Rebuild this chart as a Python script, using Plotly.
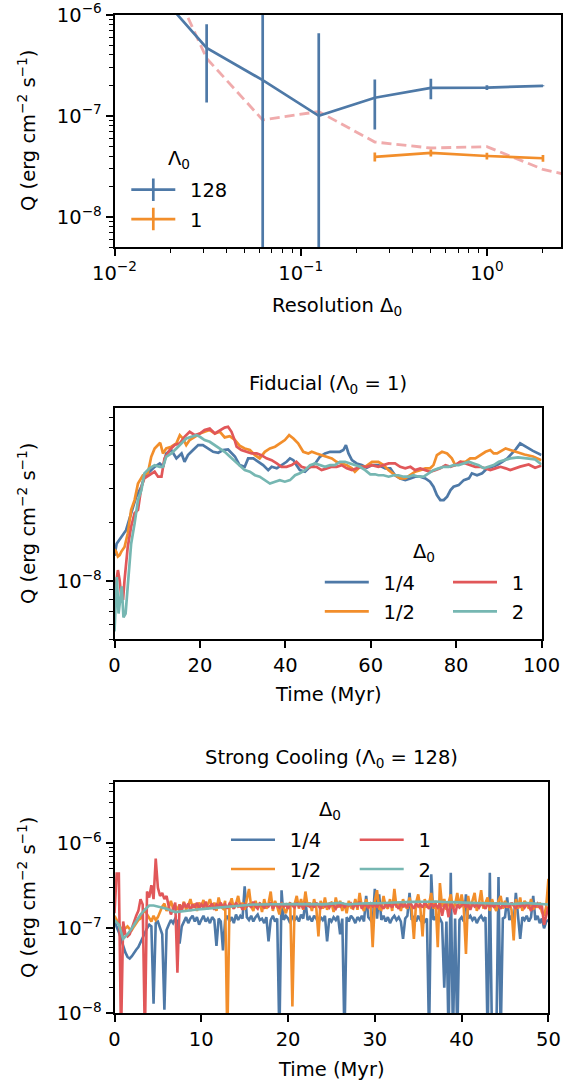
import numpy as np
import plotly.graph_objects as go

W, H = 564, 1082
FONT = "DejaVu Sans"
FS = 19.5


def px(x):
    return x / W


def py(y):
    return 1 - y / H


BLUE = "#4e79a7"
ORANGE = "#f28e2b"
RED = "#e15759"
TEAL = "#76b7b2"
PINK = "rgba(225,87,89,0.5)"

# ---------------- top panel data: Q vs resolution ----------------
res_delta_128 = [1 / 64, 1 / 32, 1 / 16, 1 / 8, 1 / 4, 1 / 2, 1, 2]
q_128 = [2.0e-6, 4.7e-7, 2.25e-7, 1.0e-7, 1.51e-7, 1.89e-7, 1.90e-7, 1.98e-7]
q_128_err = [5e-7, 3.35e-7, 8.0e-7, 5.55e-7, 7.8e-8, 4.3e-8, 1.0e-8, 2e-9]

res_delta_1 = [1 / 4, 1 / 2, 1, 2]
q_1 = [3.93e-8, 4.3e-8, 4.0e-8, 3.8e-8]
q_1_err = [4e-9, 3.5e-9, 3e-9, 3e-9]

res_delta_ref = [1 / 64, 1 / 32, 1 / 16, 1 / 8, 1 / 4, 1 / 2, 1, 2, 4]
q_ref = [6e-6, 3.7e-7, 9.1e-8, 1.1e-7, 5.5e-8, 4.8e-8, 4.95e-8, 2.95e-8, 2.2e-8]

# ---------------- middle panel: Fiducial (Lambda0 = 1), (time Myr, Q in 1e-8) ----------------
FID_UNIT = 1e-8
fid_quarter = [
    (0.0, 1.35), (0.5, 1.56), (1.6, 1.69), (2.7, 1.83), (3.9, 2.24), (5.1, 2.73), (6.3, 3.07),
    (7.0, 3.46), (8.2, 3.67), (9.4, 3.89), (10.6, 4.05), (11.4, 3.89), (12.1, 4.56), (13.3, 4.75),
    (14.5, 4.30), (15.7, 4.56), (16.4, 4.13), (17.2, 4.47), (18.4, 4.75), (19.6, 5.04), (20.7, 5.04),
    (21.9, 4.84), (23.1, 4.65), (24.3, 4.60), (25.4, 4.75), (26.6, 4.78), (27.4, 4.60), (28.2, 4.40),
    (29.3, 3.97), (30.5, 3.89), (31.3, 4.30), (32.5, 4.30), (33.7, 4.13), (34.8, 3.97), (36.0, 3.74),
    (36.8, 3.89), (38.0, 3.82), (39.1, 3.97), (40.3, 4.13), (41.1, 4.30), (41.9, 4.21), (42.6, 3.97),
    (43.4, 3.74), (44.6, 3.67), (45.8, 3.89), (47.0, 4.05), (48.1, 4.38), (49.3, 4.56), (50.5, 4.65),
    (51.6, 4.65), (52.8, 4.65), (53.6, 4.75), (54.2, 5.04), (54.8, 4.56), (55.6, 4.21), (56.7, 4.05),
    (57.9, 3.97), (59.1, 3.85), (60.3, 3.97), (61.8, 3.97), (63.4, 3.82), (64.6, 3.82), (65.7, 3.52),
    (66.9, 3.39), (68.1, 3.32), (69.3, 3.39), (70.4, 3.46), (71.6, 3.46), (72.8, 3.39), (73.9, 3.26),
    (74.7, 3.07), (75.5, 2.78), (76.3, 2.62), (77.1, 2.62), (77.9, 2.73), (78.7, 2.95), (79.4, 3.07),
    (80.6, 3.13), (81.8, 3.32), (83.0, 3.39), (83.7, 3.60), (84.9, 3.52), (86.1, 3.60), (87.3, 3.82),
    (88.4, 3.89), (89.6, 3.97), (90.8, 4.13), (92.0, 4.30), (92.7, 4.47), (94.0, 4.80), (95.0, 5.14),
    (96.5, 4.90), (98.0, 4.70), (100.0, 4.47),
]
fid_half = [
    (0.0, 1.46), (0.4, 1.42), (0.8, 1.34), (1.2, 1.36), (1.6, 1.42), (2.35, 1.50), (3.1, 1.76),
    (3.9, 2.33), (4.7, 2.62), (5.5, 3.19), (6.65, 3.52), (7.8, 3.60), (8.6, 4.38), (9.4, 4.84),
    (10.7, 5.18), (11.35, 4.56), (12.1, 4.84), (13.3, 4.94), (14.5, 5.14), (15.3, 5.67), (16.0, 5.45),
    (16.8, 5.04), (17.6, 5.35), (18.8, 5.56), (20.0, 5.78), (21.1, 5.90), (22.3, 6.02), (23.5, 5.78),
    (24.7, 5.90), (25.8, 5.52), (27.0, 5.60), (28.2, 5.35), (29.3, 5.00), (30.5, 4.84), (31.7, 4.75),
    (32.9, 4.47), (34.0, 4.30), (35.2, 4.65), (36.4, 4.84), (37.6, 4.94), (38.7, 5.14), (39.9, 5.35),
    (40.9, 5.67), (41.9, 5.45), (43.0, 5.14), (44.2, 4.65), (45.4, 4.56), (46.2, 4.65), (47.3, 4.56),
    (48.5, 4.47), (49.7, 4.38), (50.9, 4.30), (52.0, 4.13), (53.2, 4.05), (54.4, 3.97), (55.6, 3.82),
    (56.3, 3.67), (57.5, 3.89), (58.7, 3.89), (60.3, 4.13), (61.8, 4.13), (63.0, 3.97), (64.2, 3.74),
    (65.7, 3.52), (66.9, 3.39), (68.1, 3.39), (69.3, 3.52), (70.4, 3.67), (71.6, 3.74), (72.8, 3.82),
    (73.9, 3.82), (74.7, 3.97), (75.5, 4.47), (76.7, 4.65), (77.9, 4.56), (79.0, 4.30), (79.8, 3.97),
    (81.0, 4.13), (82.2, 4.13), (83.3, 4.30), (84.5, 4.30), (85.7, 4.47), (86.9, 4.65), (88.0, 4.75),
    (88.8, 4.56), (89.6, 4.56), (90.8, 4.75), (91.6, 4.84), (92.7, 4.75), (94.5, 4.60), (96.0, 4.50),
    (98.0, 4.40), (100.0, 4.21),
]
fid_one = [
    (0.0, 0.90), (0.25, 0.94), (0.8, 1.14), (1.2, 1.01), (1.6, 0.83), (2.0, 0.80), (2.35, 1.01),
    (3.1, 1.50), (3.9, 1.91), (4.7, 2.24), (5.5, 2.33), (6.3, 3.07), (7.0, 3.39), (8.2, 3.52),
    (9.4, 3.67), (10.2, 3.46), (11.0, 3.46), (11.7, 4.30), (12.9, 4.75), (14.1, 5.04), (15.3, 5.14),
    (16.4, 5.56), (17.6, 5.90), (18.8, 5.67), (20.0, 5.78), (21.1, 6.02), (22.3, 6.14), (23.5, 5.78),
    (24.7, 6.02), (25.8, 6.20), (26.6, 6.26), (27.4, 5.90), (28.2, 5.30), (28.6, 4.94), (29.7, 4.75),
    (30.9, 4.65), (32.1, 4.56), (33.3, 4.56), (34.4, 4.47), (35.6, 4.30), (36.8, 4.21), (38.0, 4.05),
    (39.1, 3.89), (40.3, 3.89), (41.5, 3.97), (42.6, 4.13), (43.8, 3.89), (45.0, 3.82), (46.2, 3.89),
    (47.3, 3.89), (48.5, 3.74), (49.7, 3.82), (50.9, 3.89), (52.0, 3.89), (53.2, 3.97), (54.4, 3.82),
    (55.6, 3.74), (56.7, 3.82), (57.9, 3.89), (59.1, 3.89), (60.3, 3.97), (61.8, 3.89), (63.0, 3.97),
    (64.2, 4.05), (65.7, 4.05), (66.9, 3.89), (68.1, 3.82), (69.3, 3.89), (70.4, 3.74), (71.6, 3.82),
    (72.8, 3.74), (73.9, 3.67), (75.1, 3.74), (76.3, 3.82), (77.5, 3.97), (78.7, 3.89), (79.8, 3.97),
    (81.0, 4.13), (82.2, 4.05), (83.3, 3.97), (84.5, 3.89), (85.7, 3.89), (86.9, 3.82), (88.0, 3.74),
    (89.2, 3.82), (90.4, 3.89), (91.6, 3.82), (92.7, 3.74), (95.0, 3.90), (97.0, 4.00), (98.5, 3.85),
    (100.0, 3.95),
]
fid_two = [
    (0.0, 0.55), (0.25, 0.74), (0.55, 1.05), (0.95, 0.68), (1.3, 0.80), (1.7, 0.94), (2.1, 0.65),
    (2.6, 0.68), (3.1, 0.94), (3.9, 1.56), (4.7, 1.98), (5.5, 2.62), (6.3, 2.95), (7.0, 3.60),
    (8.2, 3.82), (9.4, 3.97), (10.6, 3.89), (11.35, 3.89), (12.1, 4.38), (13.3, 4.56), (14.5, 4.84),
    (15.65, 5.14), (16.8, 5.45), (18.0, 5.56), (19.2, 5.67), (20.0, 5.56), (21.1, 5.35), (22.3, 5.24),
    (23.5, 5.04), (24.65, 4.84), (25.8, 4.65), (27.0, 4.40), (28.2, 4.17), (29.3, 3.93), (30.5, 3.74),
    (31.7, 3.67), (32.9, 3.52), (34.0, 3.46), (35.2, 3.32), (36.4, 3.19), (37.6, 3.26), (38.7, 3.32),
    (39.9, 3.26), (41.1, 3.32), (42.3, 3.52), (43.4, 3.60), (44.6, 3.74), (45.8, 3.97), (47.0, 4.05),
    (48.1, 3.97), (49.3, 3.89), (50.5, 3.97), (51.6, 3.97), (52.8, 4.13), (54.0, 4.13), (55.2, 4.05),
    (56.3, 3.97), (57.5, 3.89), (58.7, 3.74), (59.9, 3.56), (61.0, 3.56), (61.8, 3.52), (63.0, 3.52),
    (64.2, 3.46), (65.4, 3.52), (66.5, 3.52), (67.7, 3.46), (68.9, 3.46), (70.0, 3.52), (71.2, 3.46),
    (72.4, 3.46), (73.6, 3.60), (74.7, 3.74), (75.9, 3.82), (77.1, 3.89), (78.3, 3.89), (79.4, 3.97),
    (80.6, 3.97), (81.8, 4.05), (83.0, 4.13), (84.1, 4.05), (85.3, 3.97), (86.5, 3.82), (87.6, 3.89),
    (88.8, 3.97), (90.0, 4.13), (91.2, 4.21), (92.7, 4.30), (94.5, 4.35), (96.5, 4.30), (98.5, 4.25),
    (100.0, 4.00),
]

# ---------------- bottom panel: Strong cooling (Lambda0 = 128), Q in 1e-7 ----------------
# samples evenly spaced from 0 to 50 Myr (0.25 Myr for 1/4, 1/2, 1; 0.5 Myr for 2)
SC_UNIT = 1e-7
sc_quarter = [
    1.20, 1.05, 0.90, 0.75, 0.62, 0.52, 0.46, 0.44, 0.47, 0.52,
    0.56, 0.60, 0.68, 0.78, 0.90, 1.00, 1.10, 1.05, 0.13, 1.15,
    1.20, 1.00, 0.85, 0.11, 0.95, 1.10, 1.25, 1.15, 1.30, 1.20,
    0.66, 1.05, 1.20, 1.35, 1.15, 1.30, 1.40, 1.20, 1.35, 1.10,
    1.25, 1.40, 1.20, 1.30, 1.15, 1.35, 1.25, 0.62, 1.30, 1.20,
    0.55, 1.25, 1.40, 1.20, 1.35, 1.15, 1.45, 1.25, 1.40, 1.30,
    3.10, 1.35, 1.25, 1.40, 1.20, 1.35, 1.45, 1.25, 1.30, 1.15,
    1.35, 0.70, 1.25, 1.40, 1.20, 1.30, 0.05, 2.80, 1.25, 1.40,
    1.30, 1.15, 1.40, 1.25, 1.35, 1.20, 1.45, 1.30, 2.10, 1.25,
    1.35, 1.20, 1.40, 1.30, 1.15, 1.35, 1.25, 1.40, 0.70, 1.30,
    1.20, 1.35, 1.25, 1.40, 0.85, 1.30, 0.05, 1.35, 1.20, 1.40,
    1.30, 1.15, 1.35, 1.25, 1.40, 1.20, 2.40, 1.35, 1.25, 1.15,
    2.90, 1.30, 2.50, 1.25, 1.40, 1.20, 1.35, 1.15, 1.30, 1.40,
    1.25, 1.35, 1.20, 0.75, 1.30, 1.40, 2.60, 1.25, 1.35, 1.20,
    1.40, 1.25, 1.35, 1.20, 1.30, 0.05, 4.30, 1.25, 1.35, 1.20,
    1.30, 1.15, 0.20, 1.20, 0.05, 4.50, 0.05, 1.30, 0.05, 1.25,
    1.35, 1.20, 2.50, 1.30, 1.40, 1.25, 1.35, 1.15, 1.30, 1.40,
    1.25, 1.35, 0.05, 4.50, 0.05, 0.05, 0.05, 4.00, 0.05, 1.30,
    1.35, 2.30, 1.25, 1.40, 1.20, 2.60, 1.30, 0.75, 1.35, 1.25,
    1.40, 1.20, 1.35, 2.40, 1.25, 1.40, 1.15, 1.30, 1.00, 1.20,
    1.25,
]
sc_half = [
    1.40, 1.25, 1.10, 1.00, 0.95, 1.00, 1.05, 0.98, 0.95, 1.05,
    1.15, 1.25, 1.30, 1.50, 1.70, 1.45, 1.30, 1.20, 1.40, 1.25,
    1.35, 1.60, 1.80, 1.95, 1.60, 1.75, 2.10, 1.70, 1.85, 1.65,
    1.90, 1.70, 2.05, 1.65, 1.85, 2.20, 1.75, 1.95, 1.60, 2.00,
    1.80, 2.15, 1.70, 1.90, 2.20, 1.75, 2.00, 1.60, 2.30, 1.80,
    1.70, 2.10, 0.05, 1.85, 2.25, 1.70, 1.95, 2.40, 1.75, 2.00,
    1.65, 2.20, 2.90, 1.80, 1.60, 2.10, 1.75, 2.00, 1.55, 2.20,
    1.70, 1.95, 2.70, 1.60, 2.10, 1.80, 1.45, 2.00, 1.70, 1.50,
    1.85, 2.00, 0.12, 1.90, 2.40, 1.70, 2.20, 1.65, 2.70, 1.80,
    2.00, 1.60, 2.20, 1.75, 0.80, 2.10, 1.70, 2.30, 1.65, 1.95,
    2.00, 1.55, 2.30, 1.75, 2.10, 1.60, 1.95, 1.50, 2.10, 1.75,
    1.70, 2.20, 1.65, 2.60, 1.80, 1.60, 2.20, 1.75, 1.95, 0.60,
    2.10, 2.80, 1.70, 1.65, 2.40, 1.80, 1.70, 2.20, 1.60, 2.90,
    1.75, 2.00, 1.60, 2.20, 1.80, 1.70, 2.30, 1.65, 0.75, 2.00,
    2.50, 1.70, 0.80, 2.20, 1.75, 1.95, 2.60, 1.70, 2.10, 0.60,
    3.40, 1.80, 2.20, 1.65, 2.00, 2.50, 1.70, 1.90, 2.60, 1.75,
    2.50, 1.70, 0.50, 2.40, 1.70, 2.20, 2.60, 1.60, 1.95, 2.80,
    1.70, 2.00, 2.30, 1.60, 2.20, 1.80, 1.60, 2.10, 2.40, 1.70,
    2.10, 1.75, 1.95, 1.65, 0.72, 2.20, 1.70, 2.30, 1.60, 2.10,
    1.85, 1.70, 2.20, 1.65, 1.95, 1.75, 2.00, 1.55, 1.40, 1.80,
    3.80,
]
sc_one = [
    1.50, 4.40, 4.40, 0.05, 1.20, 0.85, 0.80, 0.85, 1.00, 1.20,
    1.40, 1.60, 2.20, 1.90, 0.05, 2.70, 2.30, 3.20, 2.20, 6.60,
    3.00, 2.40, 2.60, 2.20, 2.40, 1.80, 1.45, 1.70, 2.00, 0.30,
    1.90, 1.60, 2.00, 1.75, 1.95, 1.60, 1.90, 1.75, 2.00, 1.70,
    1.90, 1.75, 2.05, 1.70, 1.85, 1.95, 1.65, 1.90, 1.80, 2.00,
    1.75, 1.90, 1.70, 1.95, 1.85, 1.70, 2.00, 1.80, 1.90, 1.65,
    1.95, 1.80, 1.90, 1.75, 2.05, 1.80, 1.70, 1.95, 1.85, 1.75,
    1.90, 1.80, 2.00, 1.70, 1.90, 1.85, 1.75, 1.95, 1.80, 1.90,
    1.70, 1.95, 1.85, 1.75, 2.00, 1.80, 1.90, 1.70, 1.95, 1.85,
    1.80, 1.90, 1.75, 2.00, 1.85, 1.70, 1.95, 1.80, 1.90, 1.75,
    1.95, 1.85, 1.70, 1.90, 1.80, 2.00, 1.75, 1.90, 1.85, 1.95,
    1.75, 1.90, 1.80, 2.05, 1.70, 1.90, 1.85, 1.75, 1.95, 1.80,
    1.90, 1.75, 2.00, 1.85, 1.70, 1.95, 1.80, 1.90, 1.75, 2.00,
    1.85, 1.70, 1.95, 1.80, 1.90, 1.75, 2.05, 1.85, 1.70, 1.95,
    1.80, 1.90, 1.75, 2.00, 1.85, 1.70, 1.95, 1.80, 1.90, 1.75,
    1.95, 1.40, 1.85, 1.90, 1.35, 2.00, 1.80, 1.45, 1.90, 1.75,
    1.85, 2.00, 1.75, 1.90, 1.65, 1.95, 1.80, 1.90, 1.75, 1.95,
    1.85, 1.70, 1.95, 1.80, 1.90, 1.75, 2.00, 1.85, 1.70, 1.95,
    1.80, 1.90, 1.75, 2.00, 1.85, 1.70, 1.95, 1.80, 1.90, 1.75,
    1.95, 1.85, 1.60, 1.90, 1.80, 1.95, 1.75, 1.85, 1.10, 1.40,
    1.80,
]
sc_two = [
    1.25, 1.10, 0.75, 0.85, 1.00, 1.20, 1.45, 1.65, 1.85, 1.85,
    1.80, 1.75, 1.70, 1.62, 1.55, 1.57, 1.60, 1.63, 1.64, 1.66,
    1.68, 1.70, 1.72, 1.74, 1.76, 1.78, 1.80, 1.82, 1.84, 1.86,
    1.88, 1.89, 1.90, 1.90, 1.91, 1.91, 1.92, 1.92, 1.93, 1.92,
    1.93, 1.92, 1.94, 1.93, 1.92, 1.93, 1.94, 1.92, 1.91, 1.92,
    1.93, 1.97, 1.99, 1.94, 1.91, 1.93, 1.95, 1.96, 1.97, 1.96,
    1.95, 1.97, 1.98, 2.00, 2.01, 2.00, 2.02, 2.03, 2.02, 2.04,
    2.05, 2.04, 2.03, 2.05, 2.06, 2.04, 2.03, 2.02, 2.03, 2.01,
    2.00, 2.01, 1.99, 1.98, 1.97, 1.96, 1.95, 1.94, 1.93, 1.92,
    1.92, 1.91, 1.93, 1.95, 1.97, 1.98, 1.96, 1.94, 1.92, 1.91,
    1.90,
]
SC_T_END = 50.0

delta_labels = ["1/4", "1/2", "1", "2"]
colors4 = [BLUE, ORANGE, RED, TEAL]

fig = go.Figure()

# ---- top panel ----
fig.add_trace(go.Scatter(x=res_delta_ref, y=q_ref, mode="lines", showlegend=False,
                         line=dict(color=PINK, width=2.8, dash="10px,5px"), xaxis="x", yaxis="y"))
fig.add_trace(go.Scatter(x=res_delta_128, y=q_128, mode="lines", showlegend=False,
                         line=dict(color=BLUE, width=2.7),
                         error_y=dict(type="data", array=q_128_err, color=BLUE, thickness=2.7, width=0),
                         xaxis="x", yaxis="y"))
fig.add_trace(go.Scatter(x=res_delta_1, y=q_1, mode="lines", showlegend=False,
                         line=dict(color=ORANGE, width=2.7),
                         error_y=dict(type="data", array=q_1_err, color=ORANGE, thickness=2.7, width=0),
                         xaxis="x", yaxis="y"))
# legend entries (line with an error-bar tick), no data of their own
for name, col, grp in [("\u2002128", BLUE, "g128"), ("\u20021", ORANGE, "g1")]:
    fig.add_trace(go.Scatter(x=[None], y=[None], mode="lines+markers", name=name,
                             line=dict(color=col, width=2.7),
                             marker=dict(symbol="line-ns", size=16, color=col, line=dict(color=col, width=2.7)),
                             legend="legend", legendgroup=grp, xaxis="x", yaxis="y"))

# ---- middle panel ----
fid_series = [fid_quarter, fid_half, fid_one, fid_two]
fid_legends = ["legend2", "legend2", "legend3", "legend3"]
for lab, col, ser, lg in zip(delta_labels, colors4, fid_series, fid_legends):
    t = [p[0] for p in ser]
    q = [p[1] * FID_UNIT for p in ser]
    fig.add_trace(go.Scatter(x=t, y=q, mode="lines", name="\u2002" + lab,
                             line=dict(color=col, width=2.7), legend=lg, legendgroup="f" + lab,
                             xaxis="x2", yaxis="y2"))

# ---- bottom panel ----
sc_series = [sc_quarter, sc_half, sc_one, sc_two]
sc_legends = ["legend4", "legend4", "legend5", "legend5"]
for lab, col, ser, lg in zip(delta_labels, colors4, sc_series, sc_legends):
    t = np.linspace(0, SC_T_END, len(ser))
    q = np.array(ser) * SC_UNIT
    fig.add_trace(go.Scatter(x=t, y=q, mode="lines", name="\u2002" + lab,
                             line=dict(color=col, width=2.6), legend=lg, legendgroup="s" + lab,
                             xaxis="x3", yaxis="y3"))

tickfont = dict(family=FONT, size=FS, color="black")
axis_common = dict(showline=True, linecolor="black", linewidth=1.6, mirror=True,
                   ticks="outside", ticklen=7, tickwidth=1.5, tickcolor="black",
                   showgrid=False, zeroline=False, tickfont=tickfont, automargin=False)


def sup(p):
    return "10<sup>" + ("\u2212" + str(-p) if p < 0 else str(p)) + "</sup>"


def minor_vals(lo_exp, hi_exp):
    return [m * 10.0 ** e for e in range(lo_exp, hi_exp + 1) for m in range(2, 10)]


minor_common = dict(ticks="outside", ticklen=4, tickwidth=1.2, tickcolor="black", tickmode="array")

fig.update_layout(
    template="none",
    width=W, height=H, margin=dict(l=0, r=0, t=0, b=0, autoexpand=False),
    paper_bgcolor="white", plot_bgcolor="white",
    font=dict(family=FONT, size=FS, color="black"),
    xaxis=dict(axis_common, type="log", domain=[px(114.5), px(561)], anchor="y",
               range=[-2, np.log10(2.5)], tickmode="array", tickvals=[1e-2, 1e-1, 1],
               ticktext=[sup(-2), sup(-1), sup(0)],
               minor=dict(minor_common, tickvals=minor_vals(-2, 0))),
    yaxis=dict(axis_common, type="log", domain=[py(247.3), py(14.7)], anchor="x",
               range=[np.log10(5e-9), -6], tickmode="array", tickvals=[1e-8, 1e-7, 1e-6],
               ticktext=[sup(-8), sup(-7), sup(-6)],
               minor=dict(minor_common, tickvals=minor_vals(-9, -7))),
    xaxis2=dict(axis_common, domain=[px(114.5), px(541.5)], anchor="y2", range=[0, 100],
                tickmode="array", tickvals=[0, 20, 40, 60, 80, 100]),
    yaxis2=dict(axis_common, type="log", domain=[py(639.4), py(408.3)], anchor="x2",
                range=[np.log10(5e-9), np.log10(7.8e-8)], tickmode="array", tickvals=[1e-8],
                ticktext=[sup(-8)],
                minor=dict(minor_common, tickvals=minor_vals(-9, -8))),
    xaxis3=dict(axis_common, domain=[px(114.5), px(548.4)], anchor="y3", range=[0, 50],
                tickmode="array", tickvals=[0, 10, 20, 30, 40, 50]),
    yaxis3=dict(axis_common, type="log", domain=[py(1013.3), py(782.3)], anchor="x3",
                range=[-8, np.log10(5.2e-6)], tickmode="array", tickvals=[1e-8, 1e-7, 1e-6],
                ticktext=[sup(-8), sup(-7), sup(-6)],
                minor=dict(minor_common, tickvals=minor_vals(-8, -6))),
)

leg_common = dict(xanchor="left", yanchor="top", bgcolor="rgba(0,0,0,0)", borderwidth=0,
                  font=dict(family=FONT, size=FS, color="black"), itemwidth=44,
                  tracegroupgap=1, orientation="v")
fig.update_layout(
    legend=dict(leg_common, x=px(126.3), y=py(170.5)),
    legend2=dict(leg_common, x=px(319.8), y=py(562.9)),
    legend3=dict(leg_common, x=px(448.0), y=py(562.9)),
    legend4=dict(leg_common, x=px(226.0), y=py(820.5)),
    legend5=dict(leg_common, x=px(354.7), y=py(820.5)),
)

ann = []


def add_text(text, x, y, angle=0):
    ann.append(dict(text=text, x=px(x), y=py(y), xref="paper", yref="paper", showarrow=False,
                    xanchor="center", yanchor="middle", textangle=angle,
                    font=dict(family=FONT, size=FS, color="black")))


ytitle = "Q (erg cm<sup>\u22122</sup> s<sup>\u22121</sup>)"
add_text(ytitle, 27, 131, -90)
add_text(ytitle, 27, 524, -90)
add_text(ytitle, 27, 898, -90)
add_text("Resolution \u0394<sub>0</sub>", 337, 306)
add_text("Time (Myr)", 328, 694)
add_text("Time (Myr)", 331.5, 1069)
add_text("Fiducial (\u039b<sub>0</sub> = 1)", 328, 385)
add_text("Strong Cooling (\u039b<sub>0</sub> = 128)", 331.5, 758)
add_text("\u039b<sub>0</sub>", 179, 160)
add_text("\u0394<sub>0</sub>", 424, 552)
add_text("\u0394<sub>0</sub>", 330, 810)
fig.update_layout(annotations=ann)

fig.write_html("out.html")
